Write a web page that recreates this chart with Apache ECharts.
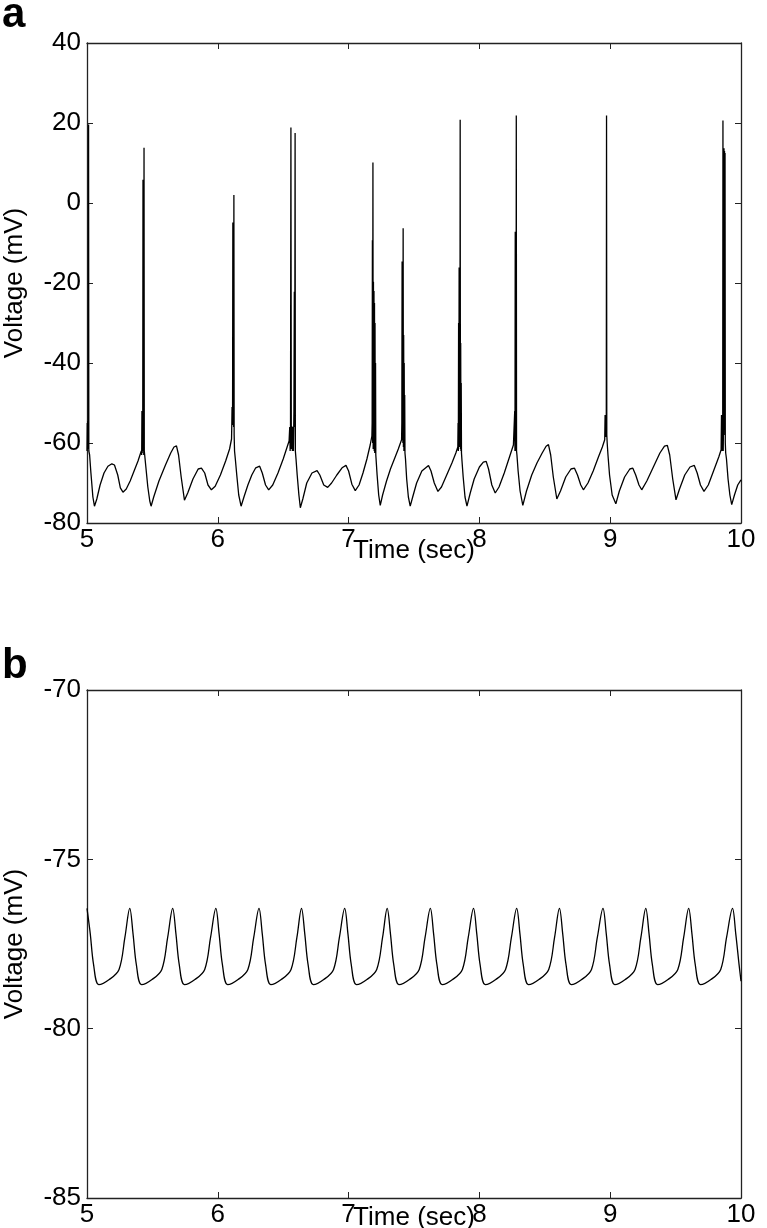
<!DOCTYPE html>
<html>
  <head>
    <meta charset="utf-8" />
    <title>Voltage traces</title>
    <script src="https://cdn.jsdelivr.net/npm/echarts@6/dist/echarts.min.js"></script>
    <style>
      html, body { margin: 0; padding: 0; background: #fff; }
    </style>
  </head>
  <body>
    <div id="main" style="width: 767px;height:1228px;"></div>
    <script type="text/javascript">
      // time axis (sec) shared by both panels
      var timeRange = [5, 10];
      var timeTicks = [5, 6, 7, 8, 9, 10];
      // voltage axes (mV)
      var voltRangeA = [-80, 40];
      var voltRangeB = [-85, -70];

      // panel a: bursting trace, [time, voltage]
      var traceA = [
        [5.000, -62.0], [5.002, -55.0], [5.004, -61.5], [5.006, -54.5], [5.008, -61.0], [5.010, -55.0],
        [5.012, 19.6], [5.014, -62.0], [5.020, -63.0], [5.030, -67.5], [5.045, -73.5], [5.057, -75.8],
        [5.075, -74.0], [5.100, -70.5], [5.130, -67.5], [5.160, -65.8], [5.190, -65.2], [5.210, -65.5],
        [5.235, -68.0], [5.255, -71.2], [5.275, -72.3], [5.300, -71.5], [5.330, -69.5], [5.360, -67.0],
        [5.390, -64.5], [5.415, -62.0],
        [5.418, -63.0], [5.420, -52.0], [5.422, -62.5], [5.424, -52.5], [5.426, -62.0], [5.428, 5.8],
        [5.430, -62.0], [5.432, -53.0], [5.434, -63.0], [5.436, 13.8], [5.438, -62.0], [5.441, -63.0],
        [5.450, -66.0], [5.465, -71.0], [5.480, -74.5], [5.490, -75.8],
        [5.510, -73.5], [5.550, -69.5], [5.600, -65.5], [5.640, -62.5], [5.665, -61.0], [5.684, -60.7],
        [5.700, -63.0], [5.720, -68.5], [5.745, -74.3], [5.770, -72.5], [5.810, -69.0], [5.850, -66.5],
        [5.875, -66.3], [5.900, -67.5], [5.925, -70.5], [5.951, -71.7], [5.980, -70.8], [6.020, -68.0],
        [6.060, -64.5], [6.090, -61.5], [6.105, -59.0],
        [6.107, -55.5], [6.109, -51.0], [6.111, -55.5], [6.113, -51.0], [6.115, -4.9], [6.117, -55.0],
        [6.119, -51.0], [6.121, -56.0], [6.123, 2.0], [6.125, -58.0], [6.128, -62.0], [6.134, -64.0],
        [6.145, -68.0], [6.160, -73.0], [6.178, -75.8],
        [6.200, -73.5], [6.230, -70.5], [6.260, -68.0], [6.290, -66.2], [6.320, -65.8], [6.340, -67.5],
        [6.365, -70.5], [6.389, -71.7], [6.420, -70.5], [6.460, -67.5], [6.500, -64.0], [6.530, -61.0],
        [6.545, -59.5],
        [6.550, -56.0], [6.553, -62.0], [6.556, -56.5], [6.559, 18.9], [6.562, -61.5], [6.566, -55.8],
        [6.570, -62.0], [6.574, -56.0], [6.578, -62.0], [6.582, -52.0], [6.585, -22.2], [6.587, -56.0],
        [6.589, -30.0], [6.591, 17.5], [6.593, -62.0], [6.598, -64.0], [6.607, -68.0], [6.620, -73.0],
        [6.631, -76.2],
        [6.650, -74.0], [6.680, -70.0], [6.720, -67.5], [6.759, -66.9], [6.780, -68.0], [6.810, -70.5],
        [6.840, -71.1], [6.870, -70.0], [6.910, -68.0], [6.950, -66.2], [6.980, -65.6], [7.000, -67.0],
        [7.025, -70.3], [7.051, -71.9], [7.080, -70.5], [7.110, -67.5], [7.140, -64.0], [7.165, -60.5],
        [7.178, -58.3],
        [7.180, -55.0], [7.182, -9.3], [7.184, -60.0], [7.186, 10.1], [7.188, -61.5], [7.190, -19.7],
        [7.192, -61.0], [7.194, -22.0], [7.196, -62.0], [7.198, -25.0], [7.200, -62.5], [7.202, -30.0],
        [7.204, -62.5], [7.206, -40.0], [7.208, -63.0], [7.211, -64.5], [7.218, -68.0], [7.230, -73.0],
        [7.242, -75.6],
        [7.260, -73.0], [7.290, -69.5], [7.320, -66.5], [7.350, -64.0], [7.380, -61.5], [7.405, -59.2],
        [7.407, -55.0], [7.409, -14.6], [7.411, -58.0], [7.413, -33.0], [7.415, -60.0], [7.417, -6.3],
        [7.419, -61.0], [7.421, -33.0], [7.423, -62.0], [7.425, -40.0], [7.427, -62.0], [7.429, -48.0],
        [7.431, -62.5], [7.435, -64.0], [7.444, -69.0], [7.457, -73.5], [7.471, -75.8],
        [7.490, -73.5], [7.520, -70.0], [7.560, -67.0], [7.611, -65.6], [7.630, -67.0], [7.655, -70.0],
        [7.683, -72.1], [7.710, -71.0], [7.750, -68.0], [7.790, -65.0], [7.820, -62.5], [7.835, -61.0],
        [7.837, -55.0], [7.839, -62.0], [7.841, -30.0], [7.843, -61.0], [7.845, -16.1], [7.847, -60.0],
        [7.849, -32.0], [7.851, -61.0], [7.853, 20.8], [7.855, -61.5], [7.857, -35.0], [7.859, -62.0],
        [7.861, -45.0], [7.863, -62.5], [7.867, -64.5], [7.876, -68.5], [7.890, -73.5], [7.905, -75.8],
        [7.930, -72.5], [7.960, -69.0], [8.000, -66.0], [8.030, -64.8], [8.052, -64.6], [8.070, -66.5],
        [8.095, -70.5], [8.121, -72.5], [8.150, -71.0], [8.190, -67.5], [8.230, -63.5], [8.260, -60.5],
        [8.268, -60.0],
        [8.270, -52.0], [8.272, -62.0], [8.274, -7.2], [8.276, -61.0], [8.278, -52.0], [8.280, -62.0],
        [8.282, 21.9], [8.284, -62.0], [8.287, -63.0], [8.296, -67.0], [8.311, -72.0], [8.332, -75.6],
        [8.360, -72.0], [8.400, -68.0], [8.440, -65.0], [8.480, -62.5], [8.510, -60.8], [8.528, -60.4],
        [8.545, -63.0], [8.565, -68.5], [8.592, -74.0], [8.620, -72.0], [8.660, -68.5], [8.700, -66.5],
        [8.727, -66.3], [8.750, -68.0], [8.775, -70.5], [8.795, -71.7], [8.830, -70.0], [8.870, -67.0],
        [8.910, -63.5], [8.940, -61.0], [8.958, -59.2],
        [8.961, -53.0], [8.964, -58.5], [8.967, -53.0], [8.970, -58.5], [8.972, 21.9], [8.974, -58.0],
        [8.977, -60.0], [8.983, -63.0], [8.995, -68.0], [9.015, -73.0], [9.043, -75.2],
        [9.070, -72.0], [9.110, -68.5], [9.150, -66.5], [9.173, -66.3], [9.195, -68.0], [9.220, -70.5],
        [9.241, -71.7], [9.280, -69.5], [9.330, -66.0], [9.380, -62.5], [9.415, -60.8], [9.437, -60.6],
        [9.455, -63.0], [9.478, -69.0], [9.503, -74.2], [9.530, -71.5], [9.570, -68.0], [9.610, -66.0],
        [9.643, -65.6], [9.665, -67.5], [9.690, -70.5], [9.717, -72.1], [9.750, -70.5], [9.790, -67.0],
        [9.830, -63.5], [9.848, -61.7],
        [9.851, -53.0], [9.854, -62.0], [9.857, -53.0], [9.860, -62.0], [9.862, 20.6], [9.864, -62.0],
        [9.867, -53.0], [9.870, 13.7], [9.872, -55.0], [9.874, 13.0], [9.876, -58.0], [9.878, 12.5],
        [9.880, -60.0], [9.883, -62.5], [9.889, -64.0], [9.901, -69.0], [9.915, -73.0], [9.929, -75.4],
        [9.950, -73.0], [9.975, -70.5], [10.000, -69.2]
      ];

      // panel b: subthreshold oscillation, [time, voltage]
      var traceB = [
        [5.000, -76.45], [5.025, -77.2], [5.050, -78.1], [5.090, -78.7], [5.170, -78.55], [5.245, -78.25], [5.290, -77.3],
        [5.327, -76.45], [5.352, -77.2], [5.377, -78.1], [5.417, -78.7], [5.497, -78.55], [5.572, -78.25], [5.617, -77.3],
        [5.655, -76.45], [5.680, -77.2], [5.705, -78.1], [5.745, -78.7], [5.825, -78.55], [5.900, -78.25], [5.945, -77.3],
        [5.985, -76.45], [6.010, -77.2], [6.035, -78.1], [6.075, -78.7], [6.155, -78.55], [6.230, -78.25], [6.275, -77.3],
        [6.315, -76.45], [6.340, -77.2], [6.365, -78.1], [6.405, -78.7], [6.485, -78.55], [6.560, -78.25], [6.605, -77.3],
        [6.640, -76.45], [6.665, -77.2], [6.690, -78.1], [6.730, -78.7], [6.810, -78.55], [6.885, -78.25], [6.930, -77.3],
        [6.970, -76.45], [6.995, -77.2], [7.020, -78.1], [7.060, -78.7], [7.140, -78.55], [7.215, -78.25], [7.260, -77.3],
        [7.295, -76.45], [7.320, -77.2], [7.345, -78.1], [7.385, -78.7], [7.465, -78.55], [7.540, -78.25], [7.585, -77.3],
        [7.625, -76.45], [7.650, -77.2], [7.675, -78.1], [7.715, -78.7], [7.795, -78.55], [7.870, -78.25], [7.915, -77.3],
        [7.955, -76.45], [7.980, -77.2], [8.005, -78.1], [8.045, -78.7], [8.125, -78.55], [8.200, -78.25], [8.245, -77.3],
        [8.285, -76.45], [8.310, -77.2], [8.335, -78.1], [8.375, -78.7], [8.455, -78.55], [8.530, -78.25], [8.575, -77.3],
        [8.612, -76.45], [8.637, -77.2], [8.662, -78.1], [8.702, -78.7], [8.782, -78.55], [8.857, -78.25], [8.902, -77.3],
        [8.945, -76.45], [8.970, -77.2], [8.995, -78.1], [9.035, -78.7], [9.115, -78.55], [9.190, -78.25], [9.235, -77.3],
        [9.272, -76.45], [9.297, -77.2], [9.322, -78.1], [9.362, -78.7], [9.442, -78.55], [9.517, -78.25], [9.562, -77.3],
        [9.600, -76.45], [9.625, -77.2], [9.650, -78.1], [9.690, -78.7], [9.770, -78.55], [9.845, -78.25], [9.890, -77.3],
        [9.935, -76.45], [9.960, -77.2], [9.985, -78.1], [10.000, -78.6]
      ];

      var FONT = 'Liberation Sans, Arial, Helvetica, sans-serif';
      var AXIS_COLOR = '#222';
      var FS = 26;

      function xAxisFor(grid, pos, labels, gap) {
        return {
          type: 'value', gridIndex: grid, position: pos,
          min: timeRange[0], max: timeRange[1], interval: 1,
          name: labels ? 'Time (sec)' : '', nameLocation: 'middle', nameGap: gap,
          nameMoveOverlap: false,
          nameTextStyle: { color: '#000', fontSize: FS, fontFamily: FONT },
          splitLine: { show: false },
          axisLine: { onZero: false, lineStyle: { color: AXIS_COLOR, width: 1.3 } },
          axisTick: { inside: true, length: 6, lineStyle: { color: AXIS_COLOR } },
          axisLabel: { show: labels, color: '#000', fontSize: FS, fontFamily: FONT, margin: 4,
            formatter: function (v) { return timeTicks.indexOf(v) >= 0 ? String(v) : ''; } }
        };
      }

      function yAxisFor(grid, pos, range, step, labels) {
        return {
          type: 'value', gridIndex: grid, position: pos,
          min: range[0], max: range[1], interval: step,
          name: labels ? 'Voltage (mV)' : '', nameLocation: 'middle', nameGap: 59,
          nameMoveOverlap: false,
          nameTextStyle: { color: '#000', fontSize: FS, fontFamily: FONT },
          splitLine: { show: false },
          axisLine: { onZero: false, lineStyle: { color: AXIS_COLOR, width: 1.3 } },
          axisTick: { inside: true, length: 6, lineStyle: { color: AXIS_COLOR } },
          axisLabel: { show: labels, color: '#000', fontSize: FS, fontFamily: FONT, margin: 6,
            padding: [6, 0, 0, 0] }
        };
      }

      var myChart = echarts.init(document.getElementById('main'));

      myChart.setOption({
        animation: false,
        backgroundColor: '#fff',
        graphic: [
          { type: 'text', left: 2, top: -6, style: { text: 'a', font: 'bold 42px ' + FONT, fill: '#000' } },
          { type: 'text', left: 2, top: 645, style: { text: 'b', font: 'bold 42px ' + FONT, fill: '#000' } }
        ],
        grid: [
          { left: 87, top: 43, width: 654, height: 480, outerBoundsMode: 'none' },
          { left: 87, top: 690, width: 654, height: 508, outerBoundsMode: 'none' }
        ],
        xAxis: [
          xAxisFor(0, 'bottom', true, 15),
          xAxisFor(0, 'top', false, 15),
          xAxisFor(1, 'bottom', true, 7),
          xAxisFor(1, 'top', false, 7)
        ],
        yAxis: [
          yAxisFor(0, 'left', voltRangeA, 20, true),
          yAxisFor(0, 'right', voltRangeA, 20, false),
          yAxisFor(1, 'left', voltRangeB, 5, true),
          yAxisFor(1, 'right', voltRangeB, 5, false)
        ],
        series: [
          {
            name: 'a', type: 'line', xAxisIndex: 0, yAxisIndex: 0,
            data: traceA, showSymbol: false, symbol: 'none',
            lineStyle: { color: '#000', width: 1.3 }
          },
          {
            name: 'b', type: 'line', xAxisIndex: 2, yAxisIndex: 2,
            data: traceB, showSymbol: false, symbol: 'none', smooth: 0.35,
            lineStyle: { color: '#000', width: 1.3 }
          }
        ]
      });
    </script>
  </body>
</html>
